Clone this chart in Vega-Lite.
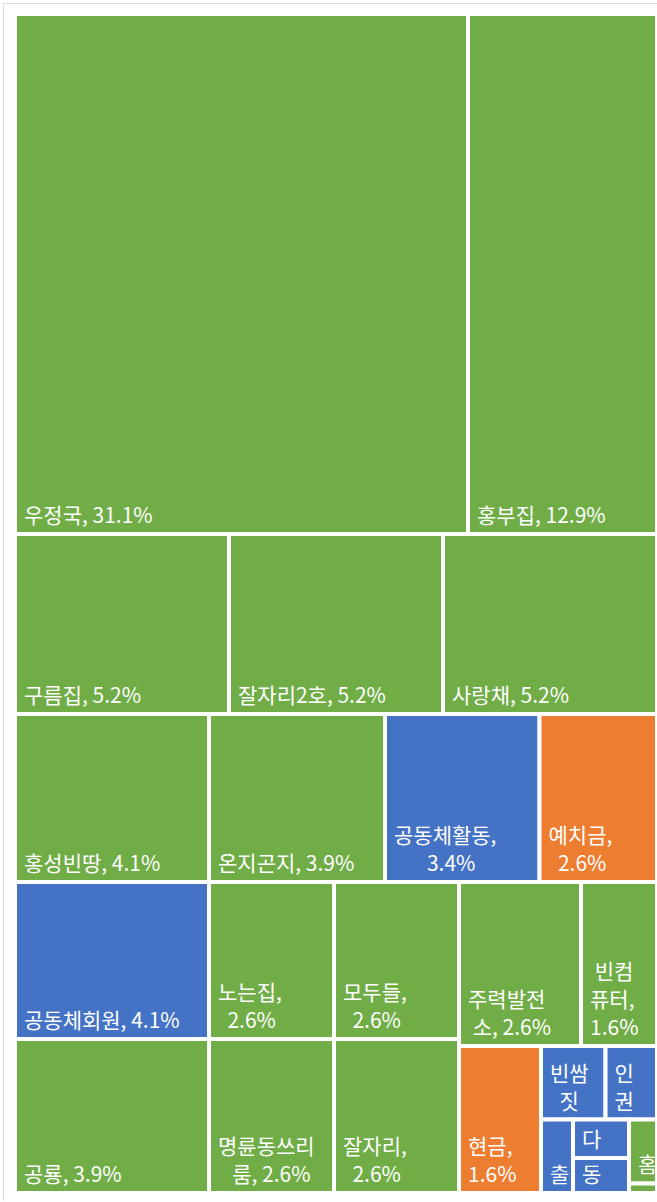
{
  "$schema": "https://vega.github.io/schema/vega-lite/v6.json",
  "width": 656,
  "height": 1198,
  "autosize": {"type": "none"},
  "padding": {"left": 3, "top": 3, "right": 0, "bottom": 0},
  "background": "white",
  "view": {"stroke": "#dcdcdc", "strokeWidth": 1},
  "config": {"font": "Noto Sans CJK KR"},
  "data": {
    "values": [
      {"name": "우정국", "pct": 31.1, "grp": "공간", "x0": 0, "x1": 70.56, "y0": 0, "y1": 44.10, "line_a": "", "line_b": "", "line_c": "우정국, 31.1%"},
      {"name": "홍부집", "pct": 12.9, "grp": "공간", "x0": 70.56, "x1": 100, "y0": 0, "y1": 44.10, "line_a": "", "line_b": "", "line_c": "홍부집, 12.9%"},
      {"name": "구름집", "pct": 5.2, "grp": "공간", "x0": 0, "x1": 33.33, "y0": 44.10, "y1": 59.37, "line_a": "", "line_b": "", "line_c": "구름집, 5.2%"},
      {"name": "잘자리2호", "pct": 5.2, "grp": "공간", "x0": 33.33, "x1": 66.67, "y0": 44.10, "y1": 59.37, "line_a": "", "line_b": "", "line_c": "잘자리2호, 5.2%"},
      {"name": "사랑채", "pct": 5.2, "grp": "공간", "x0": 66.67, "x1": 100, "y0": 44.10, "y1": 59.37, "line_a": "", "line_b": "", "line_c": "사랑채, 5.2%"},
      {"name": "홍성빈땅", "pct": 4.1, "grp": "공간", "x0": 0, "x1": 30.22, "y0": 59.37, "y1": 73.62, "line_a": "", "line_b": "", "line_c": "홍성빈땅, 4.1%"},
      {"name": "공동체회원", "pct": 4.1, "grp": "활동", "x0": 0, "x1": 30.22, "y0": 73.62, "y1": 86.94, "line_a": "", "line_b": "", "line_c": "공동체회원, 4.1%"},
      {"name": "공룡", "pct": 3.9, "grp": "공간", "x0": 0, "x1": 30.22, "y0": 86.94, "y1": 100, "line_a": "", "line_b": "", "line_c": "공룡, 3.9%"},
      {"name": "온지곤지", "pct": 3.9, "grp": "공간", "x0": 30.22, "x1": 57.63, "y0": 59.37, "y1": 73.62, "line_a": "", "line_b": "", "line_c": "온지곤지, 3.9%"},
      {"name": "공동체활동", "pct": 3.4, "grp": "활동", "x0": 57.63, "x1": 81.70, "y0": 59.37, "y1": 73.62, "line_a": "", "line_b": "공동체활동,", "line_c": "\u200b\u00a0\u00a0\u00a0\u00a0\u00a0\u00a0\u00a03.4%"},
      {"name": "예치금", "pct": 2.6, "grp": "자금", "x0": 81.70, "x1": 100, "y0": 59.37, "y1": 73.62, "line_a": "", "line_b": "예치금,", "line_c": "\u200b\u00a0\u00a02.6%"},
      {"name": "노는집", "pct": 2.6, "grp": "공간", "x0": 30.22, "x1": 49.69, "y0": 73.62, "y1": 86.94, "line_a": "", "line_b": "노는집,", "line_c": "\u200b\u00a0\u00a02.6%"},
      {"name": "명륜동쓰리룸", "pct": 2.6, "grp": "공간", "x0": 30.22, "x1": 49.69, "y0": 86.94, "y1": 100, "line_a": "", "line_b": "명륜동쓰리", "line_c": "\u200b\u00a0\u00a0\u00a0룸, 2.6%"},
      {"name": "모두들", "pct": 2.6, "grp": "공간", "x0": 49.69, "x1": 69.16, "y0": 73.62, "y1": 86.94, "line_a": "", "line_b": "모두들,", "line_c": "\u200b\u00a0\u00a02.6%"},
      {"name": "잘자리", "pct": 2.6, "grp": "공간", "x0": 49.69, "x1": 69.16, "y0": 86.94, "y1": 100, "line_a": "", "line_b": "잘자리,", "line_c": "\u200b\u00a0\u00a02.6%"},
      {"name": "주력발전소", "pct": 2.6, "grp": "공간", "x0": 69.16, "x1": 88.16, "y0": 73.62, "y1": 87.53, "line_a": "", "line_b": "주력발전", "line_c": "\u200b\u00a0소, 2.6%"},
      {"name": "빈컴퓨터", "pct": 1.6, "grp": "공간", "x0": 88.16, "x1": 100, "y0": 73.62, "y1": 87.53, "line_a": "\u200b\u00a0빈컴", "line_b": "퓨터,", "line_c": "1.6%"},
      {"name": "현금", "pct": 1.6, "grp": "자금", "x0": 69.16, "x1": 81.93, "y0": 87.53, "y1": 100, "line_a": "", "line_b": "현금,", "line_c": "1.6%"},
      {"name": "빈쌈짓", "pct": 0.6, "grp": "활동", "x0": 81.93, "x1": 91.98, "y0": 87.53, "y1": 93.77, "line_a": "", "line_b": "빈쌈", "line_c": "\u200b\u00a0\u00a0짓"},
      {"name": "인권", "pct": 0.5, "grp": "활동", "x0": 91.98, "x1": 100, "y0": 87.53, "y1": 93.77, "line_a": "", "line_b": "인", "line_c": "권"},
      {"name": "출", "pct": 0.3, "grp": "활동", "x0": 81.93, "x1": 86.92, "y0": 93.77, "y1": 100, "line_a": "", "line_b": "", "line_c": "출"},
      {"name": "다", "pct": 0.3, "grp": "활동", "x0": 86.92, "x1": 95.64, "y0": 93.77, "y1": 97.03, "line_a": "", "line_b": "", "line_c": "다"},
      {"name": "동", "pct": 0.3, "grp": "활동", "x0": 86.92, "x1": 95.64, "y0": 97.03, "y1": 100, "line_a": "", "line_b": "", "line_c": "동"},
      {"name": "홈", "pct": 0.2, "grp": "공간", "x0": 95.64, "x1": 100, "y0": 93.77, "y1": 99.19, "line_a": "", "line_b": "", "line_c": "홈"},
      {"name": "기타", "pct": 0.04, "grp": "공간", "x0": 95.64, "x1": 100, "y0": 99.19, "y1": 100, "line_a": "", "line_b": "", "line_c": ""}
    ]
  },
  "layer": [
    {
      "mark": {"type": "rect", "stroke": "white", "strokeWidth": 4, "opacity": 1},
      "encoding": {
        "x": {"field": "x0", "type": "quantitative", "scale": {"domain": [-1.87, 100.31], "nice": false, "zero": false}, "axis": null},
        "x2": {"field": "x1"},
        "y": {"field": "y0", "type": "quantitative", "scale": {"domain": [-0.933, 100.68], "nice": false, "zero": false, "reverse": true}, "axis": null},
        "y2": {"field": "y1"},
        "color": {"field": "grp", "type": "nominal", "scale": {"domain": ["공간", "활동", "자금"], "range": ["#70AD47", "#4472C4", "#ED7D31"]}, "legend": null}
      }
    },
    {
      "mark": {"type": "text", "align": "left", "baseline": "bottom", "dx": 9, "dy": -7, "fontSize": 21, "color": "white"},
      "encoding": {
        "x": {"field": "x0", "type": "quantitative"},
        "y": {"field": "y1", "type": "quantitative"},
        "text": {"field": "line_c", "type": "nominal"}
      }
    },
    {
      "mark": {"type": "text", "align": "left", "baseline": "bottom", "dx": 9, "dy": -35, "fontSize": 21, "color": "white"},
      "encoding": {
        "x": {"field": "x0", "type": "quantitative"},
        "y": {"field": "y1", "type": "quantitative"},
        "text": {"field": "line_b", "type": "nominal"}
      }
    },
    {
      "mark": {"type": "text", "align": "left", "baseline": "bottom", "dx": 9, "dy": -63, "fontSize": 21, "color": "white"},
      "encoding": {
        "x": {"field": "x0", "type": "quantitative"},
        "y": {"field": "y1", "type": "quantitative"},
        "text": {"field": "line_a", "type": "nominal"}
      }
    }
  ]
}
